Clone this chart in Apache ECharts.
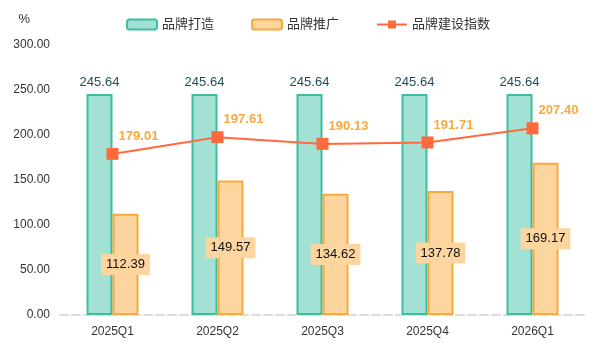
<!DOCTYPE html>
<html>
<head>
<meta charset="utf-8">
<script src="https://cdn.jsdelivr.net/npm/echarts@6/dist/echarts.min.js"></script>
<style>
  html, body { margin: 0; padding: 0; background: #fff; }
  #chart { width: 598px; height: 346px; }
</style>
</head>
<body>
<div id="chart"></div>
<script>
// Quarterly brand indicators
const categories = ['2025Q1', '2025Q2', '2025Q3', '2025Q4', '2026Q1'];
const brandBuilding = [245.64, 245.64, 245.64, 245.64, 245.64];
const brandPromotion = [112.39, 149.57, 134.62, 137.78, 169.17];
const brandIndex = [179.01, 197.61, 190.13, 191.71, 207.40];
const seriesNames = ['品牌打造', '品牌推广', '品牌建设指数'];

const fontFamily = 'Arial, "Liberation Sans", "Noto Sans CJK SC", sans-serif';
const chart = echarts.init(document.getElementById('chart'));

chart.setOption({
  animation: false,
  textStyle: { fontFamily: fontFamily },
  legend: {
    top: 13,
    left: 121,
    itemWidth: 30,
    itemHeight: 10,
    itemGap: 37,
    textStyle: { color: '#333', fontSize: 13, fontFamily: fontFamily },
    data: seriesNames
  },
  grid: { left: 60, right: 13, top: 45, bottom: 31, containLabel: false },
  xAxis: {
    type: 'category',
    data: categories,
    axisTick: { show: false },
    axisLine: { show: true, lineStyle: { color: '#ddd', type: 'dashed', width: 2 } },
    axisLabel: { color: '#333', fontSize: 12, margin: 11 }
  },
  yAxis: {
    type: 'value',
    name: '%',
    nameLocation: 'end',
    nameGap: 19,
    nameTextStyle: { color: '#333', fontSize: 13, align: 'right', padding: [0, 30, 0, 0] },
    min: 0,
    max: 300,
    interval: 50,
    splitLine: { show: false },
    axisLine: { show: false },
    axisTick: { show: false },
    axisLabel: {
      color: '#333',
      fontSize: 12,
      margin: 10,
      formatter: v => v.toFixed(2)
    }
  },
  series: [
    {
      name: seriesNames[0],
      type: 'bar',
      data: brandBuilding,
      barWidth: 26,
      barGap: '0%',
      itemStyle: { color: '#A3E1D4', borderColor: '#3DBE9F', borderWidth: 2 },
      label: {
        show: true,
        position: 'top',
        distance: 5,
        color: '#1F4E5A',
        fontSize: 13,
        formatter: p => p.value.toFixed(2)
      }
    },
    {
      name: seriesNames[1],
      type: 'bar',
      data: brandPromotion,
      barWidth: 26,
      barGap: '0%',
      itemStyle: { color: '#FDD59F', borderColor: '#F7A93E', borderWidth: 2 },
      label: {
        show: true,
        position: 'inside',
        color: '#111',
        fontSize: 13,
        backgroundColor: '#FDD59F',
        padding: [4, 5],
        formatter: p => p.value.toFixed(2)
      }
    },
    {
      name: seriesNames[2],
      type: 'line',
      data: brandIndex,
      symbol: 'rect',
      symbolSize: 12,
      lineStyle: { color: '#FF6A3D', width: 2 },
      itemStyle: { color: '#FF6A3D' },
      label: {
        show: true,
        position: 'top',
        offset: [26, 0],
        color: '#F9A93A',
        fontWeight: 'bold',
        fontSize: 13,
        formatter: p => p.value.toFixed(2)
      },
      z: 5
    }
  ]
});
</script>
</body>
</html>
